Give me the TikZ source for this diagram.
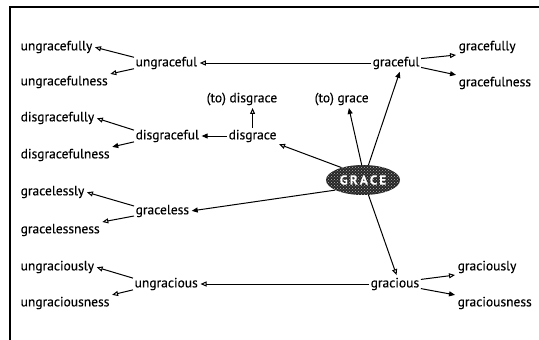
\documentclass[tikz,border=0pt]{standalone}
\usepackage{fontspec}
\setmainfont{PT Sans}[FakeBold=0.3]
\usetikzlibrary{arrows.meta,shapes.geometric,patterns}
\begin{document}
\begin{tikzpicture}[x=1pt,y=-1pt,
  word/.style={anchor=west,inner sep=1.5pt,font=\fontsize{13.5}{15}\selectfont},
  link/.style={line width=1pt,shorten >=1pt,-{Triangle[open,length=6pt,width=5pt]}},
  solidlink/.style={line width=1pt,shorten >=1pt,-{Triangle[length=6pt,width=5pt]}}]
\useasboundingbox (0,0) rectangle (539,340);
\draw[line width=1.2pt] (10,340) -- (10,7) -- (539,7);
% root word
\node[ellipse,minimum width=74pt,minimum height=30pt,inner sep=0pt,fill=black!85,
  postaction={pattern=crosshatch dots,pattern color=white!70!black},
  text=white,font=\bfseries\fontsize{13}{15}\selectfont] (grace) at (363,180) {G\,R\,A\,C\,E};
% first level
\node[word] (graceful) at (371,63) {graceful};
\node[word] (gracious) at (369,284) {gracious};
\node[word] (tograce) at (313,99) {(to) grace};
\node[word] (disgrace) at (227,136) {disgrace};
\node[word] (graceless) at (134,211) {graceless};
% second level
\node[word] (ungraceful) at (134,63) {ungraceful};
\node[word] (disgraceful) at (134,136) {disgraceful};
\node[word] (todisgrace) at (205,99) {(to) disgrace};
\node[word] (ungracious) at (133,284) {ungracious};
\node[word] (gracefully) at (457,47) {gracefully};
\node[word] (gracefulness) at (457,83) {gracefulness};
\node[word] (graciously) at (456,267) {graciously};
\node[word] (graciousness) at (456,303) {graciousness};
% left column
\node[word] (ungracefully) at (19,47) {ungracefully};
\node[word] (ungracefulness) at (19,82) {ungracefulness};
\node[word] (disgracefully) at (19,118) {disgracefully};
\node[word] (disgracefulness) at (19,155) {disgracefulness};
\node[word] (gracelessly) at (19,192) {gracelessly};
\node[word] (gracelessness) at (19,230) {gracelessness};
\node[word] (ungraciously) at (19,267) {ungraciously};
\node[word] (ungraciousness) at (19,303) {ungraciousness};
% from the root
\draw[solidlink] (grace.95) -- ([xshift=7pt]tograce.south);
\draw[solidlink] (grace.70) -- ([xshift=4pt]graceful.south);
\draw[link] (grace.150) -- (disgrace.south east);
\draw[solidlink] (grace.200) -- (graceless.east);
\draw[link] (grace.-70) -- ([xshift=2pt]gracious.north);
% first level to second level
\draw[link] (graceful.west) -- (ungraceful.east);
\draw[link] (graceful.10) -- (gracefully.south west);
\draw[solidlink] (graceful.-10) -- (gracefulness.north west);
\draw[solidlink] (disgrace.west) -- (disgraceful.east);
\draw[link] (disgrace.north) -- (disgrace.north |- todisgrace.south);
\draw[link] (gracious.west) -- (ungracious.east);
\draw[link] (gracious.10) -- (graciously.south west);
\draw[solidlink] (gracious.-10) -- (graciousness.north west);
% to the left column
\draw[link] (ungraceful.170) -- (ungracefully.east);
\draw[link] (ungraceful.190) -- (ungracefulness.north east);
\draw[link] (disgraceful.170) -- (disgracefully.east);
\draw[solidlink] (disgraceful.190) -- (disgracefulness.north east);
\draw[link] (graceless.170) -- (gracelessly.east);
\draw[link] (graceless.190) -- (gracelessness.north east);
\draw[link] (ungracious.170) -- (ungraciously.east);
\draw[link] (ungracious.190) -- (ungraciousness.north east);
\end{tikzpicture}
\end{document}
